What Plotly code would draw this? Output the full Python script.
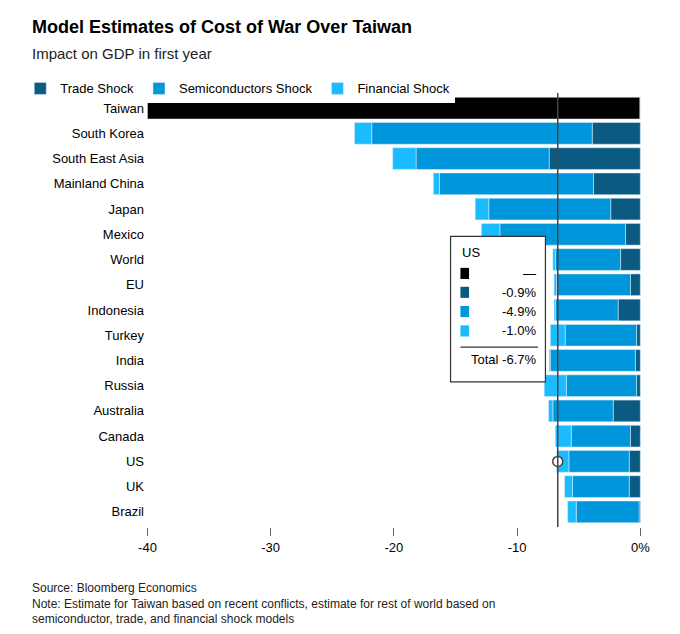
import plotly.graph_objects as go

countries = ["Taiwan", "South Korea", "South East Asia", "Mainland China", "Japan", "Mexico",
             "World", "EU", "Indonesia", "Turkey", "India", "Russia", "Australia", "Canada",
             "US", "UK", "Brazil"]
taiwan_total = [-40] + [0] * 16
trade = [0, -3.9, -7.4, -3.8, -2.4, -1.2, -1.6, -0.8, -1.8, -0.3, -0.4, -0.3, -2.2, -0.8, -0.9, -0.9, -0.1]
semis = [0, -17.9, -10.8, -12.5, -9.9, -10.2, -5.3, -6.0, -5.1, -5.8, -6.9, -5.7, -4.9, -4.8, -4.9, -4.6, -5.1]
financial = [0, -1.4, -1.9, -0.5, -1.1, -1.5, -0.2, -0.2, -0.1, -1.2, -0.1, -1.8, -0.35, -1.3, -1.0, -0.65, -0.7]

us_total = -6.7
pos = list(range(len(countries)))

DARK = "#0b5a82"
MID = "#0096db"
LIGHT = "#1abcff"

fig = go.Figure()
fig.add_trace(go.Bar(y=pos, x=taiwan_total, orientation="h", marker_color="black",
                     showlegend=False))
fig.add_trace(go.Bar(y=pos, x=trade, orientation="h", marker_color=DARK, name="Trade Shock"))
fig.add_trace(go.Bar(y=pos, x=semis, orientation="h", marker_color=MID, name="Semiconductors Shock"))
fig.add_trace(go.Bar(y=pos, x=financial, orientation="h", marker_color=LIGHT, name="Financial Shock"))

# US reference line and point
fig.add_shape(type="line", x0=us_total, x1=us_total, y0=-0.9, y1=16.6, xref="x", yref="y",
              line=dict(color="#444", width=1.5))
fig.add_trace(go.Scatter(x=[us_total], y=[14], mode="markers", showlegend=False,
                         marker=dict(color="white", size=10, line=dict(color="#444", width=1.5))))

# tooltip box
fig.add_shape(type="rect", x0=-15.4, x1=-7.7, y0=5.08, y1=10.85, xref="x", yref="y",
              fillcolor="white", line=dict(color="#333", width=1.2), layer="above")
fig.add_annotation(x=-14.6, y=5.71, text="US", showarrow=False, xanchor="left",
                   font=dict(size=13, color="black"))
rows = [("black", "—", 6.55), (DARK, "-0.9%", 7.3), (MID, "-4.9%", 8.06), (LIGHT, "-1.0%", 8.83)]
for col, txt, yy in rows:
    fig.add_shape(type="rect", x0=-14.6, x1=-13.9, y0=yy - 0.22, y1=yy + 0.22, xref="x", yref="y",
                  fillcolor=col, line_width=0, layer="above")
    fig.add_annotation(x=-8.3, y=yy, text=txt, showarrow=False, xanchor="right",
                       font=dict(size=13, color="black"))
fig.add_shape(type="line", x0=-14.6, x1=-8.3, y0=9.47, y1=9.47, xref="x", yref="y",
              line=dict(color="#333", width=1.2), layer="above")
fig.add_annotation(x=-8.3, y=9.96, text="Total -6.7%", showarrow=False, xanchor="right",
                   font=dict(size=13, color="black"))

fig.add_annotation(xref="paper", yref="paper", x=-0.23, y=1.18, xanchor="left", yanchor="top",
                   text="<b>Model Estimates of Cost of War Over Taiwan</b>", showarrow=False,
                   font=dict(size=18, color="black"))
fig.add_annotation(xref="paper", yref="paper", x=-0.23, y=1.115, xanchor="left", yanchor="top",
                   text="Impact on GDP in first year", showarrow=False, font=dict(size=15, color="#222"))
fig.add_annotation(xref="paper", yref="paper", x=-0.23, y=-0.12, xanchor="left", yanchor="top",
                   align="left", showarrow=False, font=dict(size=12, color="#222"),
                   text="Source: Bloomberg Economics<br>Note: Estimate for Taiwan based on recent conflicts, "
                        "estimate for rest of world based on<br>semiconductor, trade, and financial shock models")

fig.update_layout(
    width=680, height=634, barmode="relative", bargap=0.14,
    plot_bgcolor="white", paper_bgcolor="white",
    font=dict(family="Liberation Sans, Arial", size=13, color="black"),
    margin=dict(l=135, r=44, t=85, b=115),
    legend=dict(orientation="h", x=-0.25, y=1.045, xanchor="left", yanchor="top",
                font=dict(size=13), itemwidth=30, traceorder="normal"),
    xaxis=dict(range=[-40.2, 0.3], tickvals=[-40, -30, -20, -10, 0],
               ticktext=["-40", "-30", "-20", "-10", "0%"], showgrid=False, zeroline=False,
               ticks="outside", ticklen=8, tickcolor="#666", showline=False),
    yaxis=dict(tickvals=pos, ticktext=countries, autorange=False, range=[16.6, -0.6],
               showgrid=False, zeroline=False, ticks="", ticksuffix="  "),
)

fig.write_html("out.html")
